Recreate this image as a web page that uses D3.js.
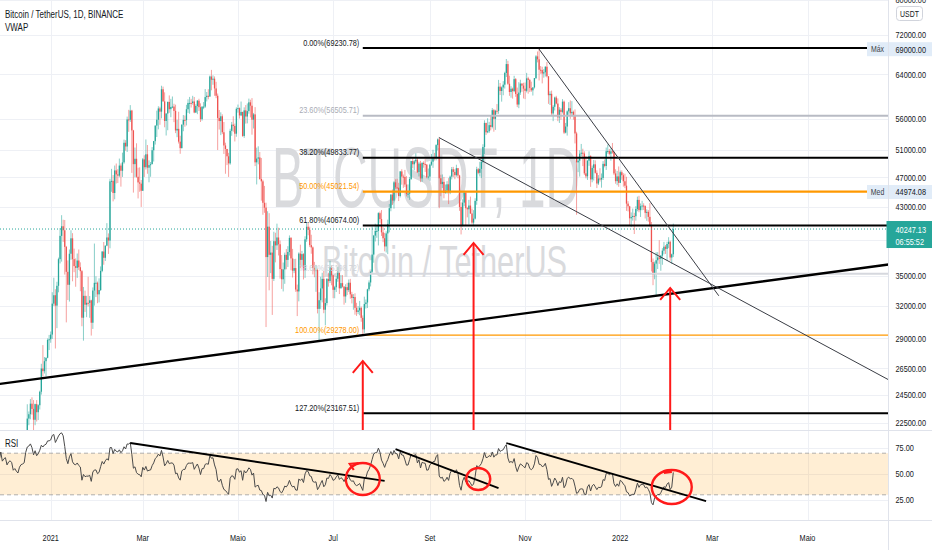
<!DOCTYPE html>
<html><head><meta charset="utf-8">
<script src="https://cdn.jsdelivr.net/npm/d3@7/dist/d3.min.js"></script>
<style>html,body{margin:0;padding:0;background:#fff;overflow:hidden}svg{display:block}</style>
</head><body>
<svg id="chart" width="932" height="550"></svg>
<script>
// ================= DATA (BTCUSDT daily, prices in thousands of USDT) =================
const firstDay = "2020-10-15";
const closeK = [
// 2020-10-15..31
11.50,11.32,11.37,11.51,11.75,11.91,12.81,12.99,12.93,13.13,13.03,13.07,13.65,13.28,13.46,13.56,13.80,
// 2020-11
13.76,13.55,14.02,14.15,15.59,15.58,14.83,15.48,15.33,15.30,15.70,16.28,16.32,16.07,15.97,16.72,17.65,17.78,17.82,18.65,18.70,18.42,18.37,19.16,18.72,17.15,17.14,17.72,18.18,19.70,
// 2020-12
18.77,19.22,19.43,18.65,19.15,19.36,19.17,18.32,18.55,18.25,18.04,18.80,19.17,19.27,19.44,21.34,22.80,23.10,23.84,23.47,22.72,23.81,23.24,23.73,24.71,26.49,26.28,27.08,27.36,28.86,28.92,
// 2021-01
29.33,32.18,33.00,31.99,33.95,36.77,39.43,40.58,40.09,38.15,35.40,34.05,37.37,39.14,36.77,36.01,35.82,36.62,35.89,35.47,30.85,32.94,32.08,32.26,32.25,32.50,30.39,33.47,34.25,34.26,33.09,
// 2021-02
33.52,35.50,37.62,36.92,38.29,39.24,38.88,46.43,46.50,44.84,47.97,47.41,47.23,48.68,47.93,49.15,52.12,51.55,55.90,55.84,57.41,54.09,48.89,49.68,47.07,46.28,46.11,45.14,
// 2021-03
49.59,48.44,50.35,48.37,48.75,48.88,50.97,52.38,54.88,55.85,57.77,57.22,61.19,59.00,55.64,56.90,58.91,57.65,58.03,58.10,57.35,54.08,54.34,52.30,51.29,55.03,55.82,55.78,57.63,58.73,58.74,
// 2021-04
58.72,58.99,57.07,58.20,59.13,57.99,55.95,58.08,58.09,59.77,60.00,59.86,63.58,62.96,63.16,61.34,60.01,56.15,55.63,56.43,53.79,51.70,51.16,50.05,49.00,54.02,55.03,54.82,53.56,57.70,
// 2021-05
57.83,56.58,57.17,53.20,57.44,56.39,57.31,58.84,58.25,55.86,56.75,49.15,49.71,49.88,46.76,46.43,43.54,42.91,37.00,40.53,37.25,37.50,34.66,38.80,38.32,39.24,38.45,35.69,34.62,35.66,37.25,
// 2021-06
36.69,37.57,39.19,36.85,35.52,35.80,33.57,33.38,37.39,36.69,37.33,35.55,39.02,40.52,40.14,38.35,38.09,35.82,35.48,35.60,31.68,32.51,33.68,34.66,31.60,32.24,34.65,34.43,35.87,35.04,
// 2021-07
33.54,33.80,34.67,35.29,33.69,34.22,33.86,32.88,33.81,33.51,34.26,33.09,32.73,32.82,31.78,31.39,31.53,31.78,30.84,29.79,32.14,32.29,33.59,34.29,35.41,37.28,39.46,40.02,40.02,42.21,41.46,
// 2021-08
39.85,39.15,38.20,39.72,40.87,42.84,44.61,43.83,46.29,45.60,45.55,44.43,47.83,47.10,47.05,45.99,44.69,44.74,46.76,49.34,48.87,49.29,49.55,47.71,48.97,46.84,49.07,48.90,48.81,46.99,47.10,
// 2021-09
48.81,49.25,49.94,49.92,51.76,52.66,46.86,46.05,46.36,44.84,45.15,46.02,44.94,47.09,48.14,47.76,47.30,48.30,47.25,43.00,40.69,43.56,44.88,42.84,42.70,43.18,42.17,41.03,41.52,43.79,
// 2021-10
48.14,47.63,48.20,49.22,51.47,55.32,53.79,53.95,54.95,54.66,57.47,56.00,57.37,57.35,61.67,60.88,61.53,62.04,64.26,65.99,62.21,60.69,61.29,60.85,63.08,60.33,58.45,60.59,62.25,61.86,61.30,
// 2021-11
60.91,63.22,62.93,61.40,61.00,61.53,63.27,67.53,66.94,64.88,64.81,64.15,64.39,65.47,63.62,60.11,60.36,56.91,58.06,59.70,58.62,56.25,57.55,57.17,58.96,53.73,54.72,57.27,57.81,56.95,
// 2021-12
57.18,56.48,53.60,49.15,49.40,50.44,50.59,50.47,47.55,47.14,49.39,50.10,46.70,48.34,48.86,47.63,46.13,46.83,46.68,46.91,48.93,48.62,50.82,50.85,50.43,50.80,50.72,47.54,46.46,47.12,46.22,
// 2022-01
47.72,47.29,46.44,45.83,43.43,43.08,41.56,41.73,41.86,41.82,42.74,43.92,42.59,43.10,43.18,43.11,42.25,42.37,41.74,40.68,36.45,35.07,36.28,36.65,36.96,36.81,37.16,37.72,38.17,37.92,38.48,
// 2022-02-01..04
38.74,36.95,37.31,40.25
];
const highK = [
11.55,11.54,11.40,11.53,11.82,12.00,13.24,13.20,13.03,13.17,13.35,13.24,13.79,13.86,13.64,13.70,14.10,
13.90,13.83,14.07,14.25,15.75,15.96,15.77,15.65,15.84,15.47,15.97,16.48,16.48,16.33,16.17,16.88,17.86,18.48,18.17,18.82,18.96,18.75,18.77,19.42,19.48,19.15,17.46,17.85,18.35,19.86,
19.89,19.31,19.57,19.53,19.17,19.42,19.39,19.29,18.64,18.56,18.27,18.95,19.41,19.35,19.57,21.56,23.80,23.29,24.17,24.30,24.10,23.84,24.10,23.80,24.79,26.87,28.42,27.42,27.38,28.99,29.30,
29.60,33.30,34.78,33.60,34.36,36.94,40.37,41.95,41.38,41.35,38.26,36.63,37.85,40.10,39.75,37.95,36.85,37.40,37.85,36.42,35.60,33.83,33.46,32.94,34.88,32.92,32.56,33.78,38.53,34.93,34.38,
34.72,35.98,37.66,38.71,38.31,40.96,39.72,46.79,48.20,47.31,48.68,48.98,48.16,49.71,49.00,50.60,52.62,52.53,56.37,57.53,58.35,57.53,54.18,51.38,52.04,48.37,48.42,46.62,
49.79,50.20,52.64,51.77,49.45,49.20,51.45,52.40,54.90,57.39,58.15,58.06,61.84,61.68,60.63,56.94,58.98,60.07,59.45,59.88,58.59,58.43,55.84,57.20,53.23,55.07,56.64,56.56,58.40,59.37,59.80,
59.46,60.00,59.79,58.49,59.25,59.47,58.66,58.15,58.89,61.22,60.69,61.20,63.77,64.85,63.80,63.59,62.57,60.41,57.50,57.10,56.76,55.47,52.13,51.17,50.57,54.36,55.48,56.43,55.20,57.96,
58.45,57.94,58.98,57.20,57.96,58.36,58.64,59.50,59.30,59.59,57.00,58.00,51.36,51.57,50.70,49.80,46.65,45.80,43.55,42.45,42.20,38.83,38.27,39.92,39.80,40.90,40.40,38.88,37.23,36.40,37.50,
37.90,38.23,39.48,39.29,37.92,36.79,36.81,34.07,37.53,38.40,37.69,37.44,39.38,41.06,40.98,40.53,39.56,38.20,36.47,36.14,35.75,33.30,34.88,35.30,35.50,32.70,34.75,35.30,36.60,36.10,
35.04,33.94,34.95,35.94,35.29,35.07,35.06,33.92,34.10,34.25,34.60,34.66,33.34,33.11,33.19,32.26,31.94,32.44,31.90,31.06,32.86,32.58,33.65,34.50,35.43,40.55,39.54,40.90,40.64,42.32,42.41,
42.60,40.45,39.78,39.97,41.39,43.39,44.70,45.31,46.45,46.72,46.78,46.22,47.89,48.14,47.39,48.05,47.16,46.00,47.05,49.38,49.76,49.50,50.50,49.87,49.23,49.37,49.17,49.30,49.63,48.91,48.25,
48.95,50.40,51.05,50.56,51.90,52.80,52.92,47.36,47.40,47.05,45.99,46.46,46.88,47.25,48.47,48.49,48.15,48.80,48.33,47.35,43.60,44.00,44.97,45.00,42.97,43.92,44.35,42.79,42.59,44.13,
48.50,48.33,49.23,49.50,51.89,55.75,55.33,56.10,55.49,56.56,57.84,57.68,57.54,58.53,62.93,62.35,61.72,62.70,64.49,67.00,66.64,63.73,61.75,61.49,63.71,63.29,61.50,62.50,62.96,62.28,62.40,
62.44,64.27,63.52,63.13,62.60,61.56,63.29,67.79,68.53,69.00,65.60,65.46,65.00,65.55,66.40,63.62,60.82,60.95,58.35,59.85,60.00,59.54,58.00,57.85,59.40,59.15,55.31,57.45,58.87,59.18,
59.05,57.40,57.60,53.87,49.70,50.95,51.94,51.20,50.80,50.05,49.49,50.80,50.20,48.68,49.50,49.44,47.99,47.31,48.29,47.54,49.33,49.58,51.38,51.86,51.16,51.27,52.09,50.76,48.14,47.90,48.55,
47.95,47.99,47.57,47.51,47.07,43.75,43.15,42.30,42.79,42.25,43.10,44.35,44.46,43.45,43.80,43.48,43.20,42.69,42.60,43.51,41.10,36.84,36.50,37.55,37.55,38.92,37.23,38.00,38.72,38.36,38.74,
39.27,38.86,37.39,40.90
];
const lowK = [
11.28,11.22,11.30,11.35,11.42,11.70,11.89,12.68,12.73,12.88,12.90,12.79,13.05,12.95,12.99,13.11,13.42,
13.62,13.20,13.30,13.53,14.09,15.20,14.34,14.70,14.80,15.10,15.27,15.44,15.95,15.71,15.79,15.87,16.56,17.21,17.33,17.76,18.33,17.60,18.00,18.02,18.52,16.20,16.45,16.87,17.52,18.10,
18.33,18.33,18.92,18.57,18.50,18.86,18.90,18.20,17.65,17.91,17.57,18.02,18.73,19.00,19.05,19.29,21.23,22.35,22.75,23.07,21.82,22.35,22.60,22.70,23.43,24.50,25.86,26.10,25.88,27.32,28.00,
28.62,28.95,31.96,28.13,29.90,33.29,36.30,36.50,38.72,35.11,30.42,32.53,32.38,36.70,34.41,35.36,33.85,34.76,35.60,33.40,30.07,28.80,31.39,30.90,31.91,30.84,29.24,29.83,31.99,32.82,32.22,
32.30,33.42,35.36,36.16,36.57,38.22,37.35,37.99,45.00,43.73,44.00,46.13,46.20,47.00,45.70,47.05,48.95,50.90,50.71,53.86,55.48,47.62,44.89,47.00,46.93,44.11,45.00,43.00,
45.12,47.05,48.10,47.50,46.30,47.07,48.90,49.27,51.84,53.03,54.27,55.01,56.08,58.97,54.60,53.27,54.12,57.02,56.27,57.82,55.45,53.65,53.00,52.00,50.43,51.25,53.96,54.69,54.90,57.00,56.87,
57.93,58.43,56.95,57.00,56.79,57.33,55.47,55.70,57.65,57.87,59.00,59.37,59.85,61.00,62.02,60.00,59.58,51.00,54.23,53.33,53.50,50.40,47.50,48.75,47.05,48.80,53.22,53.88,52.33,53.07,
57.05,56.05,56.45,53.05,52.90,55.20,55.24,56.87,56.24,53.40,54.40,48.60,46.00,48.86,46.65,43.82,42.00,42.25,30.00,34.86,33.49,35.26,31.11,34.44,36.42,37.80,37.18,34.68,33.63,33.38,34.15,
35.67,35.92,37.17,35.57,34.80,35.26,33.34,31.00,32.40,35.78,35.94,34.60,34.76,38.73,39.50,38.12,37.37,35.13,34.83,33.34,31.25,28.80,31.68,32.30,31.27,30.15,32.00,33.86,34.23,34.00,
32.71,32.70,33.32,34.36,33.12,33.69,33.77,32.08,32.26,33.02,33.32,32.66,32.20,31.60,31.13,31.02,31.18,31.08,30.48,29.28,29.48,31.71,31.76,33.40,33.88,35.21,36.38,38.77,39.20,38.31,41.00,
39.42,38.69,37.64,37.51,37.33,39.85,42.45,43.26,42.78,45.35,45.34,43.77,44.24,45.97,45.53,45.66,44.38,44.20,43.93,46.62,48.29,48.00,49.03,47.60,47.12,46.32,46.36,48.37,47.76,46.85,46.70,
46.52,48.63,48.35,49.42,49.44,50.95,42.84,44.41,45.51,44.13,44.74,44.75,43.37,44.68,46.70,47.02,46.73,47.08,46.85,42.50,39.60,40.56,43.09,40.68,41.68,40.80,42.10,40.83,40.75,41.41,
43.28,47.43,47.12,46.89,49.07,50.38,53.36,53.63,53.68,54.10,54.42,53.88,54.17,56.82,56.85,60.15,58.96,60.10,61.32,63.48,62.00,60.00,59.67,59.50,60.65,59.82,58.00,57.82,60.17,60.73,59.52,
59.41,60.62,60.38,60.68,60.72,60.05,61.32,63.09,66.33,62.82,64.10,62.28,63.35,63.58,63.40,58.57,58.37,56.47,55.61,57.42,58.49,55.61,55.32,55.84,56.92,53.50,53.61,53.26,56.67,56.00,
56.44,55.86,52.02,42.00,47.73,47.10,50.04,48.60,47.32,46.85,46.63,48.64,45.67,46.30,46.55,47.51,45.50,45.92,46.40,45.56,46.62,48.42,48.05,50.45,50.20,49.40,50.45,47.31,46.10,45.90,45.68,
46.21,46.65,45.70,45.50,42.50,42.43,40.61,40.50,41.27,39.65,41.27,42.45,42.32,41.73,42.58,42.61,41.54,41.25,41.14,40.55,35.44,34.01,34.62,32.95,35.70,36.25,35.51,36.16,37.31,37.35,36.63,
38.00,36.59,36.25,37.00
];

const priceTicks = [80000,72000,64000,56000,51000,47000,43000,39000,35000,32000,29000,26500,24500,22500];
const rsiTicks = [75,50,25];
const timeTickDates = ["2021-01-01","2021-03-01","2021-05-01","2021-07-01","2021-09-01","2021-11-01","2022-01-01","2022-03-01","2022-05-01"];
const timeTickLabels = ["2021","Mar","Maio","Jul","Set","Nov","2022","Mar","Maio"];

const fibRatios = ["0.00%","23.60%","38.20%","50.00%","61.80%","78.60%","100.00%","127.20%"];
const fibPrices = [69230.78,56505.71,49833.77,45021.54,40674.00,35198.72,29278.00,23167.51];
const fibStartDate = "2021-07-20";

const lastPrice = 40247.13;
const countdown = "06:55:52";
const maxPrice = 69000.00;
const medPrice = 44974.08;

const titleText = "Bitcoin / TetherUS, 1D, BINANCE";
const indicatorText = "VWAP";
const watermark1 = "BTCUSDT, 1D";
const watermark2 = "Bitcoin / TetherUS";

// drawing anchors: [date, price]
const trendFrom = [["2021-07-20",29278],["2021-09-07",52920],["2021-11-10",69000]];
const trendTo   = [["2022-01-24",32950],["2022-06-21",25675],["2022-03-05",32977]];
const arrowDates = ["2021-07-20","2021-09-29","2022-02-02"];
const arrowTipPrices = [27098,38598,33728];

// RSI drawings: [date, rsi]
const rsiTrendFrom = [["2021-02-21",79.8],["2021-08-10",74.0],["2021-10-20",79.8]];
const rsiTrendTo   = [["2021-08-03",43.3],["2021-10-15",36.5],["2022-02-25",24.0]];
const circleDates = ["2021-07-20","2021-10-02","2022-02-03"];
const circleRsi = [45.2,45.2,37.5];

// ================= STYLE / LAYOUT =================
const X0 = 0, X1 = 888.5, PY1 = 430.5, RY0 = 431, RY1 = 520.5;
const FONT = "'Liberation Sans', Arial, sans-serif";
const SX = 0.77;
const UP = "#26a69a", DOWN = "#ef5350";
const trendStyle = [{ext:"both", w:2.4, c:"#000"},{ext:"right", w:1, c:"#3a3d45"},{ext:"none", w:1, c:"#3a3d45"}];
const fibStyle = [
  {line:"#000", lw:2, txt:"#131722"},
  {line:"#b8bbc4", lw:2, txt:"#a9acb5"},
  {line:"#000", lw:2, txt:"#131722"},
  {line:"#ff9800", lw:2.2, txt:"#ff9800"},
  {line:"#000", lw:2, txt:"#131722"},
  {line:"#d6d8de", lw:2, txt:"#d0d2d8"},
  {line:"#ff9800", lw:1.4, txt:"#ff9800"},
  {line:"#000", lw:2, txt:"#131722"}
];
const circleRadii = [[17,16],[12,11],[20,17]];

// ================= SCALES =================
const parse = d3.utcParse("%Y-%m-%d");
const x = d3.scaleUtc().domain([parse("2021-01-01"), parse("2022-05-01")]).range([50.7, 807.5]);
const y = d3.scaleLog().domain([22500, 72000]).range([423, 35]);
const yr = d3.scaleLinear().domain([25, 75]).range([500, 448]);

const start = parse(firstDay);
const n = Math.min(closeK.length, highK.length, lowK.length);
const bars = d3.range(n).map(i => {
  const c = closeK[i]*1000, o = (i ? closeK[i-1] : closeK[0])*1000;
  return {date: d3.utcDay.offset(start, i), o, c,
          h: Math.max(highK[i]*1000, o, c), l: Math.min(lowK[i]*1000, o, c)};
});

// RSI(14), Wilder smoothing, on the close series
function rsiOf(vals, len) {
  const out = vals.map(() => null); let ag = 0, al = 0;
  for (let i = 1; i < vals.length; i++) {
    const ch = vals[i] - vals[i-1], g = Math.max(ch, 0), l = Math.max(-ch, 0);
    if (i <= len) { ag += g/len; al += l/len; if (i === len) out[i] = al === 0 ? 100 : 100 - 100/(1 + ag/al); }
    else { ag = (ag*(len-1) + g)/len; al = (al*(len-1) + l)/len; out[i] = al === 0 ? 100 : 100 - 100/(1 + ag/al); }
  }
  return out;
}
const rsi = rsiOf(bars.map(b => b.c), 14);

// ================= DRAW =================
const svg = d3.select("#chart");
svg.append("rect").attr("width", 932).attr("height", 550).attr("fill", "#fff");
const defs = svg.append("defs");
defs.append("clipPath").attr("id", "cp").append("rect").attr("x", X0).attr("y", 0).attr("width", X1 - X0).attr("height", PY1);
defs.append("clipPath").attr("id", "cr").append("rect").attr("x", X0).attr("y", RY0).attr("width", X1 - X0).attr("height", RY1 - RY0);

function label(sel, px, py, t, o = {}) {
  return sel.append("text")
    .attr("transform", `translate(${px},${py}) scale(${o.sx || SX},1)`)
    .attr("text-anchor", o.anchor || "start")
    .attr("font-family", FONT).attr("font-size", o.size || 9.5)
    .attr("font-weight", o.weight || "normal")
    .attr("fill", o.fill || "#131722").text(t);
}

// grid
const grid = svg.append("g").attr("stroke", "#eef0f5").attr("stroke-width", 1);
priceTicks.forEach(p => { const yy = Math.round(y(p)) + 0.5; if (yy < PY1) grid.append("line").attr("x1", X0).attr("x2", X1).attr("y1", yy).attr("y2", yy); });
timeTickDates.forEach(d => { const xx = Math.round(x(parse(d))) + 0.5;
  grid.append("line").attr("x1", xx).attr("x2", xx).attr("y1", 0).attr("y2", PY1);
  grid.append("line").attr("x1", xx).attr("x2", xx).attr("y1", RY0).attr("y2", RY1); });
rsiTicks.forEach(v => { const yy = Math.round(yr(v)) + 0.5; grid.append("line").attr("x1", X0).attr("x2", X1).attr("y1", yy).attr("y2", yy); });

// watermark
const wm = svg.append("g").attr("fill", "#d9dadd").attr("font-family", FONT);
wm.append("text").attr("x", 272).attr("y", 207).attr("font-size", 86)
  .attr("textLength", 308).attr("lengthAdjust", "spacingAndGlyphs").text(watermark1);
wm.append("text").attr("x", 322).attr("y", 277).attr("font-size", 44)
  .attr("textLength", 245).attr("lengthAdjust", "spacingAndGlyphs").text(watermark2);

// candles
const pc = svg.append("g").attr("clip-path", "url(#cp)");
const bw = 1.3;
bars.forEach(b => {
  const xx = x(b.date), col = b.c >= b.o ? UP : DOWN;
  pc.append("line").attr("x1", xx).attr("x2", xx).attr("y1", y(b.h)).attr("y2", y(b.l))
    .attr("stroke", col).attr("stroke-width", 1).attr("stroke-opacity", 0.55);
  const y1 = y(Math.max(b.o, b.c)), y2 = y(Math.min(b.o, b.c));
  pc.append("rect").attr("x", xx - bw/2).attr("y", y1).attr("width", bw).attr("height", Math.max(1, y2 - y1)).attr("fill", col);
});

// fib levels
const fx = x(parse(fibStartDate));
fibPrices.forEach((p, i) => {
  const st = fibStyle[i], yy = y(p);
  pc.append("line").attr("x1", fx).attr("x2", X1).attr("y1", yy).attr("y2", yy)
    .attr("stroke", st.line).attr("stroke-width", st.lw);
  label(svg, fx - 3.5, yy - 2.5, `${fibRatios[i]}(${p.toFixed(2)})`, {anchor: "end", fill: st.txt, size: 9.5});
});

// last price dotted line
pc.append("line").attr("x1", X0).attr("x2", X1).attr("y1", y(lastPrice)).attr("y2", y(lastPrice))
  .attr("stroke", UP).attr("stroke-width", 1).attr("stroke-dasharray", "1,2");

// trendlines
function extendSeg(p1, p2, ext) {
  let [x1, y1] = p1, [x2, y2] = p2; const m = (y2 - y1)/(x2 - x1);
  if (ext === "both") { y1 = y1 + m*(X0 - x1); x1 = X0; }
  if (ext === "both" || ext === "right") { y2 = y2 + m*(X1 - x2); x2 = X1; }
  return [x1, y1, x2, y2];
}
trendFrom.forEach((a, i) => {
  const b = trendTo[i], st = trendStyle[i];
  const s = extendSeg([x(parse(a[0])), y(a[1])], [x(parse(b[0])), y(b[1])], st.ext);
  pc.append("line").attr("x1", s[0]).attr("y1", s[1]).attr("x2", s[2]).attr("y2", s[3])
    .attr("stroke", st.c).attr("stroke-width", st.w).attr("stroke-linecap", "round");
});

// red arrows
arrowDates.forEach((d, i) => {
  const ax = x(parse(d)), ay = y(arrowTipPrices[i]);
  const g = pc.append("g").attr("stroke", "#ff1a1a").attr("stroke-width", 2).attr("fill", "none");
  g.append("line").attr("x1", ax).attr("x2", ax).attr("y1", ay).attr("y2", PY1);
  g.append("path").attr("d", `M${ax-10},${ay+12}L${ax},${ay}L${ax+10},${ay+12}`).attr("stroke-linejoin", "miter");
});

// ---- RSI pane ----
const rc = svg.append("g").attr("clip-path", "url(#cr)");
rc.append("rect").attr("x", X0).attr("width", X1 - X0).attr("y", yr(70)).attr("height", yr(30) - yr(70))
  .attr("fill", "rgba(255,152,0,0.17)");
[70, 30].forEach(v => rc.append("line").attr("x1", X0).attr("x2", X1).attr("y1", yr(v)).attr("y2", yr(v))
  .attr("stroke", "#9e9e9e").attr("stroke-width", 1).attr("stroke-dasharray", "4,3").attr("stroke-opacity", 0.8));
const rsiPts = bars.map((b, i) => [b.date, rsi[i]]).filter(d => d[1] !== null);
rc.append("path").attr("d", d3.line().x(d => x(d[0])).y(d => yr(d[1]))(rsiPts))
  .attr("fill", "none").attr("stroke", "#4a4a4a").attr("stroke-width", 1);
rsiTrendFrom.forEach((a, i) => {
  const b = rsiTrendTo[i];
  rc.append("line").attr("x1", x(parse(a[0]))).attr("y1", yr(a[1])).attr("x2", x(parse(b[0]))).attr("y2", yr(b[1]))
    .attr("stroke", "#000").attr("stroke-width", 1.8);
});
circleDates.forEach((d, i) => {
  const cx = x(parse(d)), cy = yr(circleRsi[i]), [rx, ry] = circleRadii[i];
  rc.append("ellipse").attr("cx", cx).attr("cy", cy).attr("rx", rx).attr("ry", ry)
    .attr("fill", "none").attr("stroke", "#ff1a1a").attr("stroke-width", 2.4);
  if (i === 0) rc.append("path").attr("d", `M${cx-9},${cy-9}l-4,-6l9,-1`).attr("fill", "none").attr("stroke", "#ff1a1a").attr("stroke-width", 2.2);
  if (i === 2) rc.append("path").attr("d", `M${cx-8},${cy-15}l8,-1`).attr("fill", "none").attr("stroke", "#ff1a1a").attr("stroke-width", 4);
});

// separators
const sep = svg.append("g").attr("stroke", "#e0e3eb").attr("stroke-width", 1);
sep.append("line").attr("x1", 0).attr("x2", 932).attr("y1", PY1).attr("y2", PY1);
sep.append("line").attr("x1", 0).attr("x2", 932).attr("y1", RY1).attr("y2", RY1);
sep.append("line").attr("x1", X1).attr("x2", X1).attr("y1", 0).attr("y2", 550);

// price axis labels
const axisG = svg.append("g");
priceTicks.forEach(p => label(axisG, 895.5, y(p) + 3.4, p.toFixed(2)));
rsiTicks.forEach(v => label(axisG, 895.5, yr(v) + 3.4, v.toFixed(2)));
// USDT box
axisG.append("rect").attr("x", 896.5).attr("y", 6.5).attr("width", 26).attr("height", 14).attr("rx", 3)
  .attr("fill", "#fff").attr("stroke", "#d1d4dc");
label(axisG, 909.5, 17, "USDT", {anchor: "middle", size: 9});

// max / med labels
[[maxPrice, "Máx"], [medPrice, "Med"]].forEach(([p, t]) => {
  const yy = y(p);
  axisG.append("rect").attr("x", 867).attr("y", yy - 7).attr("width", 21).attr("height", 14).attr("fill", "#e1ecf8");
  label(axisG, 877.5, yy + 3.3, t, {anchor: "middle", size: 9, fill: "#3b3f4a"});
  axisG.append("rect").attr("x", X1 + 0.5).attr("y", yy - 7).attr("width", 932 - X1).attr("height", 14).attr("fill", "#e1ecf8");
  label(axisG, 895.5, yy + 3.4, p.toFixed(2));
});
// last price label
const ly = y(lastPrice);
axisG.append("rect").attr("x", X1 - 2).attr("y", ly - 8).attr("width", 932 - X1 + 2).attr("height", 27).attr("fill", UP);
label(axisG, 895.5, ly + 3.5, lastPrice.toFixed(2), {fill: "#fff"});
label(axisG, 895.5, ly + 15.5, countdown, {fill: "#fff"});

// time axis labels
timeTickDates.forEach((d, i) => label(axisG, x(parse(d)), 541, timeTickLabels[i], {anchor: "middle"}));

// legends
label(svg, 5, 18, titleText, {size: 10, sx: 0.8});
label(svg, 5, 31, indicatorText, {size: 10, sx: 0.8});
label(svg, 5, 447, "RSI", {size: 10, sx: 0.8});
</script>
</body></html>
